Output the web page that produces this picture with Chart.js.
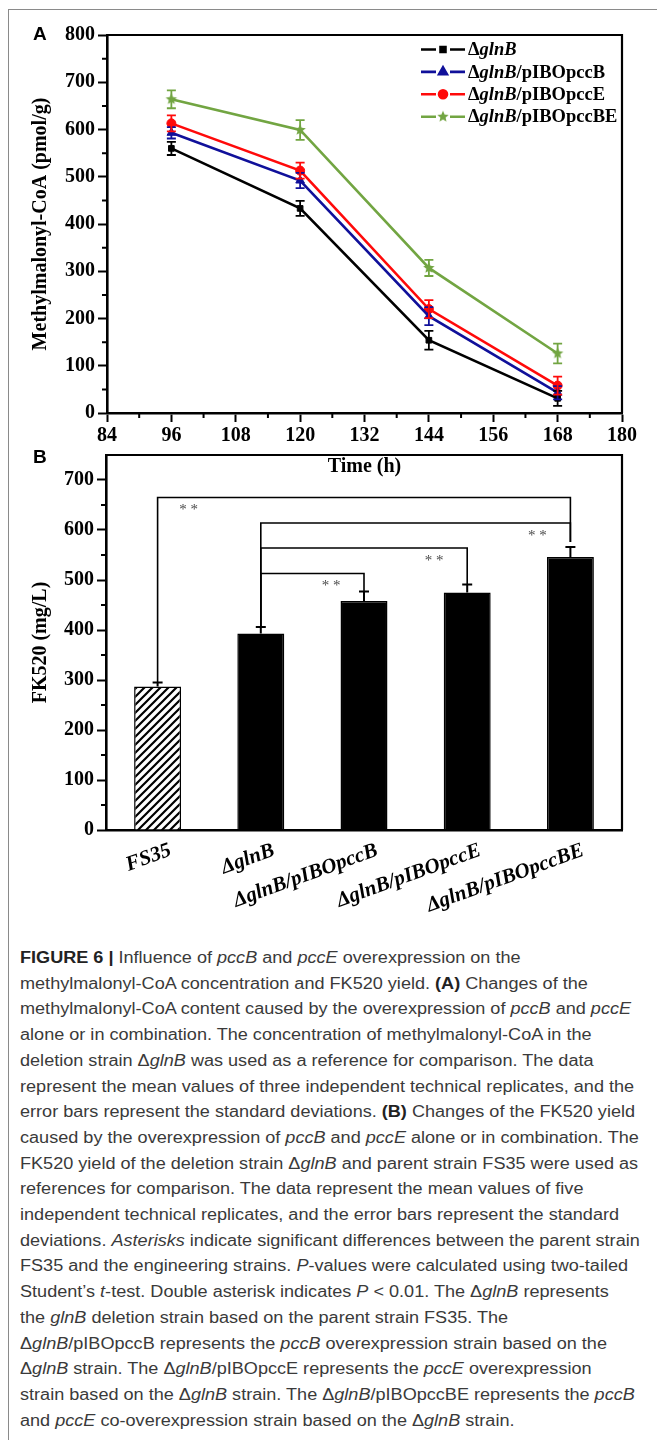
<!DOCTYPE html>
<html>
<head>
<meta charset="utf-8">
<script src="https://cdn.jsdelivr.net/npm/chart.js@4.4.1/dist/chart.umd.min.js"></script>
<style>
  body { margin: 0; background: #fff; width: 657px; height: 1440px; position: relative; overflow: hidden; }
  #frame { position: absolute; left: 8px; top: 9px; width: 700px; height: 1500px; border-left: 1px solid #8a8a8a; border-top: 1px solid #8a8a8a; }
  canvas { position: absolute; left: 0; }
  #chartA { top: 0; z-index: 2; }
  #chartB { top: 440px; z-index: 1; }
  .panel { position: absolute; font: bold 19px "Liberation Sans", Arial, sans-serif; color: #000; z-index: 3; }
  #caption { position: absolute; left: 20px; top: 945px; font: 16px "Liberation Sans", Arial, sans-serif; color: #3a3a3a; line-height: 25.7px; white-space: nowrap; transform: scaleX(1.13); transform-origin: 0 0; }
  #caption b { color: #222; }
</style>
</head>
<body>
<div id="frame"></div>
<div class="panel" style="left:33px; top:23px;">A</div>
<div class="panel" style="left:33px; top:446px;">B</div>
<canvas id="chartA" width="657" height="485"></canvas>
<canvas id="chartB" width="657" height="500"></canvas>
<div id="caption">
<b>FIGURE 6 |</b> Influence of <i>pccB</i> and <i>pccE</i> overexpression on the<br>
methylmalonyl-CoA concentration and FK520 yield. <b>(A)</b> Changes of the<br>
methylmalonyl-CoA content caused by the overexpression of <i>pccB</i> and <i>pccE</i><br>
alone or in combination. The concentration of methylmalonyl-CoA in the<br>
deletion strain Δ<i>glnB</i> was used as a reference for comparison. The data<br>
represent the mean values of three independent technical replicates, and the<br>
error bars represent the standard deviations. <b>(B)</b> Changes of the FK520 yield<br>
caused by the overexpression of <i>pccB</i> and <i>pccE</i> alone or in combination. The<br>
FK520 yield of the deletion strain Δ<i>glnB</i> and parent strain FS35 were used as<br>
references for comparison. The data represent the mean values of five<br>
independent technical replicates, and the error bars represent the standard<br>
deviations. <i>Asterisks</i> indicate significant differences between the parent strain<br>
FS35 and the engineering strains. <i>P</i>-values were calculated using two-tailed<br>
Student’s <i>t</i>-test. Double asterisk indicates <i>P</i> &lt; 0.01. The Δ<i>glnB</i> represents<br>
the <i>glnB</i> deletion strain based on the parent strain FS35. The<br>
Δ<i>glnB</i>/pIBOpccB represents the <i>pccB</i> overexpression strain based on the<br>
Δ<i>glnB</i> strain. The Δ<i>glnB</i>/pIBOpccE represents the <i>pccE</i> overexpression<br>
strain based on the Δ<i>glnB</i> strain. The Δ<i>glnB</i>/pIBOpccBE represents the <i>pccB</i><br>
and <i>pccE</i> co-overexpression strain based on the Δ<i>glnB</i> strain.
</div>
<script>
// Panel A: methylmalonyl-CoA over time
const timeH = [96, 120, 144, 168];
const glnB = [560, 433, 154, 31];
const glnBErr = [14, 16, 20, 16];
const pccB = [593, 492, 205, 43];
const pccBErr = [12, 16, 19, 14];
const pccE = [613, 513, 220, 58];
const pccEErr = [17, 17, 19, 19];
const pccBE = [664, 599, 307, 126];
const pccBEErr = [19, 21, 17, 21];
const seriesNames = ['glnB', 'glnB/pIBOpccB', 'glnB/pIBOpccE', 'glnB/pIBOpccBE'];

// Panel B: FK520 yield
const strains = ['FS35', 'ΔglnB', 'ΔglnB/pIBOpccB', 'ΔglnB/pIBOpccE', 'ΔglnB/pIBOpccBE'];
const fk520 = [287, 393, 458, 475, 546];
const fk520Err = [8, 13, 19, 16, 20];
// significance brackets: [left bar, right bar], bracket level, where the right leg stops
const sigPairs = [[0, 4], [1, 4], [1, 3], [1, 2]];
const sigLevel = [665, 614, 564, 513];
const sigDropTo = [576, 576, 491, 477];
const sigStarSide = ['left', 'right', 'right', 'right'];

const SERIF = '"Liberation Serif", "Times New Roman", serif';
const colors = ['#000000', '#10109a', '#ff0a0a', '#72a542'];

function starImage(color, r) {
  const c = document.createElement('canvas');
  c.width = c.height = 2 * r + 2;
  const g = c.getContext('2d');
  g.fillStyle = color;
  g.beginPath();
  for (let k = 0; k < 10; k++) {
    const a = -Math.PI / 2 + k * Math.PI / 5;
    const rr = k % 2 ? r * 0.45 : r;
    g.lineTo(r + 1 + rr * Math.cos(a), r + 1 + rr * Math.sin(a));
  }
  g.closePath();
  g.fill();
  return c;
}

function minorTicks(ctx, scale, values, len, horizontal) {
  ctx.save();
  ctx.strokeStyle = '#000';
  ctx.lineWidth = 2;
  ctx.beginPath();
  values.forEach(v => {
    const p = scale.getPixelForValue(v);
    if (horizontal) { ctx.moveTo(p, scale.top); ctx.lineTo(p, scale.top + len); }
    else { ctx.moveTo(scale.right, p); ctx.lineTo(scale.right - len, p); }
  });
  ctx.stroke();
  ctx.restore();
}

function drawFrame(ctx, area) {
  ctx.save();
  ctx.strokeStyle = '#000';
  ctx.lineWidth = 2.2;
  ctx.beginPath();
  ctx.moveTo(area.left, area.top);
  ctx.lineTo(area.right, area.top);
  ctx.lineTo(area.right, area.bottom);
  ctx.stroke();
  ctx.restore();
}

const starPoint = starImage(colors[3], 6);
const pointStyles = ['rect', 'triangle', 'circle', starPoint];
const pointRadius = [4, 5, 4.5, 6];
const errA = [glnBErr, pccBErr, pccEErr, pccBEErr];

const plotA = {
  id: 'plotA',
  afterDatasetsDraw(chart) {
    const {ctx, scales: {x, y}} = chart;
    chart.data.datasets.forEach((ds, i) => {
      ctx.save();
      ctx.strokeStyle = ds.borderColor;
      ctx.lineWidth = 1.8;
      ds.data.forEach((p, j) => {
        const px = x.getPixelForValue(p.x);
        const top = y.getPixelForValue(p.y + errA[i][j]);
        const bot = y.getPixelForValue(p.y - errA[i][j]);
        ctx.beginPath();
        ctx.moveTo(px, top); ctx.lineTo(px, bot);
        ctx.moveTo(px - 4.5, top); ctx.lineTo(px + 4.5, top);
        ctx.moveTo(px - 4.5, bot); ctx.lineTo(px + 4.5, bot);
        ctx.stroke();
      });
      ctx.restore();
    });
  },
  afterDraw(chart) {
    const {ctx, chartArea, scales: {x, y}} = chart;
    drawFrame(ctx, chartArea);
    minorTicks(ctx, y, [50, 150, 250, 350, 450, 550, 650, 750], 5, false);
    minorTicks(ctx, x, [90, 102, 114, 126, 138, 150, 162, 174], 5, true);

    // legend: line - marker - line, then mixed-style label
    const lx = chartArea.right - 201;
    chart.data.datasets.forEach((ds, i) => {
      const ly = chartArea.top + 14.5 + i * 22.4;
      ctx.save();
      ctx.strokeStyle = ds.borderColor;
      ctx.fillStyle = ds.borderColor;
      ctx.lineWidth = 2.6;
      ctx.beginPath();
      ctx.moveTo(lx, ly); ctx.lineTo(lx + 15, ly);
      ctx.moveTo(lx + 29, ly); ctx.lineTo(lx + 44, ly);
      ctx.stroke();
      Chart.helpers.drawPoint(ctx, {pointStyle: pointStyles[i], radius: pointRadius[i] - 0.5, rotation: 0, borderWidth: 1}, lx + 22, ly);
      ctx.fillStyle = '#000';
      ctx.textBaseline = 'middle';
      let tx = lx + 47;
      const parts = [['Δ', 'bold'], ['glnB', 'italic bold'], [seriesNames[i].slice(4), 'bold']];
      parts.forEach(([t, f]) => {
        if (!t) return;
        ctx.font = f + ' 18.5px ' + SERIF;
        ctx.fillText(t, tx, ly + 1);
        tx += ctx.measureText(t).width;
      });
      ctx.restore();
    });
  }
};

const seriesA = [glnB, pccB, pccE, pccBE];
new Chart(document.getElementById('chartA'), {
  type: 'line',
  data: {
    datasets: seriesA.map((vals, i) => ({
      label: seriesNames[i],
      data: timeH.map((t, j) => ({x: t, y: vals[j]})),
      borderColor: colors[i],
      backgroundColor: colors[i],
      borderWidth: 2.6,
      pointStyle: pointStyles[i],
      pointRadius: pointRadius[i],
      pointBorderWidth: 1,
      tension: 0
    }))
  },
  options: {
    responsive: false,
    animation: false,
    layout: {padding: {left: 0, top: 35, right: 35, bottom: 0}},
    plugins: {legend: {display: false}, tooltip: {enabled: false}},
    scales: {
      x: {
        type: 'linear', min: 84, max: 180,
        afterFit(scale) { scale.height = 72; },
        ticks: {stepSize: 12, color: '#000', padding: 2, font: {family: SERIF, size: 20, weight: 'bold'}},
        grid: {drawOnChartArea: false, tickLength: 9, tickWidth: 2, tickColor: '#000'},
        border: {color: '#000', width: 2.6},
        title: {display: true, text: 'Time (h)', color: '#000', padding: {top: 0, bottom: 6}, font: {family: SERIF, size: 20, weight: 'bold'}}
      },
      y: {
        min: 0, max: 800,
        afterFit(scale) { scale.width = 107; },
        ticks: {stepSize: 100, color: '#000', padding: 3, font: {family: SERIF, size: 20, weight: 'bold'}},
        grid: {drawOnChartArea: false, tickLength: 9, tickWidth: 2, tickColor: '#000'},
        border: {color: '#000', width: 2.6},
        title: {display: true, text: 'Methylmalonyl-CoA (pmol/g)', color: '#000', padding: {top: 29, bottom: 0}, font: {family: SERIF, size: 20, weight: 'bold'}}
      }
    }
  },
  plugins: [plotA]
});

// hatch pattern for the parent strain bar
function hatch() {
  const c = document.createElement('canvas');
  c.width = c.height = 8;
  const g = c.getContext('2d');
  g.fillStyle = '#fff';
  g.fillRect(0, 0, 8, 8);
  g.strokeStyle = '#000';
  g.lineWidth = 2.2;
  g.beginPath();
  g.moveTo(-2, 10); g.lineTo(10, -2);
  g.moveTo(-2, 2); g.lineTo(2, -2);
  g.moveTo(6, 10); g.lineTo(10, 6);
  g.stroke();
  return g.createPattern(c, 'repeat');
}

const plotB = {
  id: 'plotB',
  afterDatasetsDraw(chart) {
    const {ctx, scales: {x, y}} = chart;
    ctx.save();
    ctx.strokeStyle = '#000';
    ctx.lineWidth = 2;
    fk520.forEach((v, i) => {
      const px = x.getPixelForValue(i);
      const top = y.getPixelForValue(v + fk520Err[i]);
      ctx.beginPath();
      ctx.moveTo(px, y.getPixelForValue(v)); ctx.lineTo(px, top);
      ctx.moveTo(px - 5, top); ctx.lineTo(px + 5, top);
      ctx.stroke();
    });
    ctx.lineWidth = 1.6;
    sigPairs.forEach(([a, b], k) => {
      const xa = x.getPixelForValue(a), xb = x.getPixelForValue(b);
      const yl = y.getPixelForValue(sigLevel[k]);
      ctx.beginPath();
      ctx.moveTo(xa, y.getPixelForValue(fk520[a] + fk520Err[a]));
      ctx.lineTo(xa, yl);
      ctx.lineTo(xb, yl);
      ctx.lineTo(xb, y.getPixelForValue(sigDropTo[k]));
      ctx.stroke();
      ctx.fillStyle = '#4a4a4a';
      ctx.font = '15px ' + SERIF;
      ctx.textAlign = 'center';
      ctx.textBaseline = 'middle';
      const sx = sigStarSide[k] === 'left' ? xa + 31 : xb - 33;
      ctx.fillText('* *', sx, yl + 13);
    });
    ctx.restore();
  },
  afterDraw(chart) {
    const {ctx, chartArea, scales: {y}} = chart;
    drawFrame(ctx, chartArea);
    minorTicks(ctx, y, [50, 150, 250, 350, 450, 550, 650], 5, false);
  }
};

new Chart(document.getElementById('chartB'), {
  type: 'bar',
  data: {
    labels: strains,
    datasets: [{
      data: fk520,
      backgroundColor: fk520.map((v, i) => i === 0 ? hatch() : '#000'),
      borderColor: '#000',
      borderWidth: 1.5,
      barPercentage: 0.455,
      categoryPercentage: 1
    }]
  },
  options: {
    responsive: false,
    animation: false,
    layout: {padding: {left: 0, top: 13, right: 35, bottom: 0}},
    plugins: {legend: {display: false}, tooltip: {enabled: false}},
    scales: {
      x: {
        afterFit(scale) { scale.height = 110; },
        ticks: {minRotation: 20, maxRotation: 20, autoSkip: false, labelOffset: 13, color: '#000', padding: 0, font: {family: SERIF, size: 21, weight: 'bold', style: 'italic'}},
        grid: {display: false},
        border: {color: '#000', width: 2.6}
      },
      y: {
        min: 0, max: 750,
        afterFit(scale) { scale.width = 106; },
        ticks: {stepSize: 100, color: '#000', padding: 3, font: {family: SERIF, size: 20, weight: 'bold'},
          callback: v => (v % 100 === 0 ? v : '')},
        grid: {drawOnChartArea: false, tickLength: 9, tickWidth: 2,
          tickColor: c => (c.tick && c.tick.value % 100 !== 0 ? 'rgba(0,0,0,0)' : '#000')},
        border: {color: '#000', width: 2.6},
        title: {display: true, text: 'FK520 (mg/L)', color: '#000', padding: {top: 29, bottom: 0}, font: {family: SERIF, size: 20, weight: 'bold'}}
      }
    }
  },
  plugins: [plotB]
});
</script>
</body>
</html>
